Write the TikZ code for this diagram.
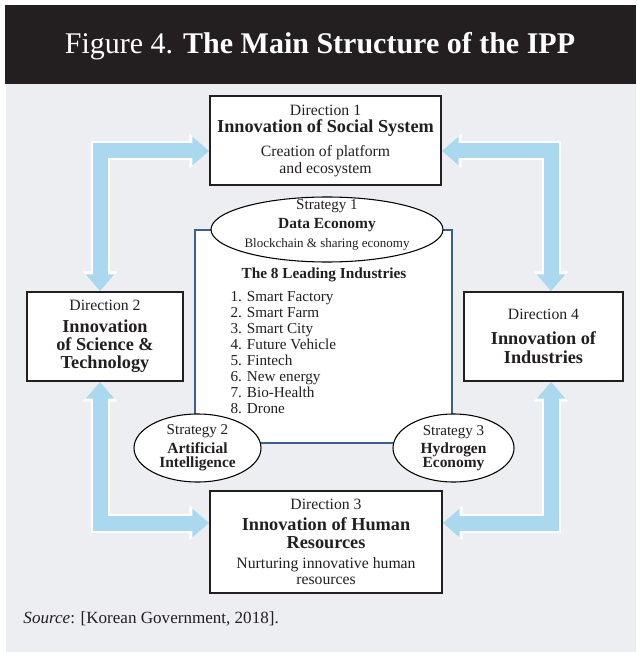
\documentclass[tikz,border=0pt]{standalone}
\usepackage{fontspec}
\setmainfont{Liberation Serif}
\usetikzlibrary{arrows.meta,shapes.geometric,backgrounds}

\definecolor{inkgray}{RGB}{35,31,32}
\definecolor{panelgray}{RGB}{237,238,242}
\definecolor{pipeblue}{RGB}{170,216,239}
\definecolor{coreblue}{RGB}{62,94,140}

\tikzset{every picture/.style={line width=0.75pt}}
\tikzset{
  dirbox/.style={draw=inkgray, fill=white, line width=1.1pt, inner sep=0pt, align=center,
    text=inkgray, font=\fontsize{11.8}{12.75}\selectfont},
  stratell/.style={ellipse, draw=black, fill=white, line width=0.8pt, inner sep=0pt},
  strattext/.style={align=center, inner sep=0pt, text=inkgray, font=\fontsize{11.3}{10.5}\selectfont},
  pipeedge/.style={draw=white, line width=14.25pt, line join=miter, >={Triangle[length=15pt,width=25.5pt]}, <->},
  pipe/.style={draw=pipeblue, line width=11.25pt, line join=miter, >={Triangle[length=12.75pt,width=21pt]}, <->},
}
\newcommand{\dirhead}[1]{{\fontsize{13.7}{12.75}\selectfont\bfseries #1}}
\newcommand{\strathead}[1]{{\fontsize{11.6}{10.5}\selectfont\bfseries #1}}

\begin{document}
\begin{tikzpicture}[x=0.75pt,y=0.75pt,yscale=-1,xscale=1]
\useasboundingbox (0,0) rectangle (636,652);

% title bar
\node[text=white, inner sep=0pt, font=\fontsize{22.5}{24}\selectfont] (title) at (320,46)
  {Figure 4. \textbf{The Main Structure of the IPP}};

% four directions
\node[dirbox, minimum width=173.25pt, minimum height=66.75pt] (d1) at (325.5,140.5)
  {Direction 1\\ \dirhead{Innovation of Social System}\\[5.25pt] Creation of platform\\ and ecosystem};
\node[dirbox, minimum width=117pt, minimum height=66.75pt] (d2) at (105,336.5)
  {Direction 2\\[3.75pt] \dirhead{Innovation}\\[0.75pt] \dirhead{of Science \&}\\[0.75pt] \dirhead{Technology}};
\node[dirbox, minimum width=119.25pt, minimum height=66.75pt] (d4) at (543.5,336.5)
  {Direction 4\\[6pt] \dirhead{Innovation of}\\[1.5pt] \dirhead{Industries}};
\node[dirbox, minimum width=174pt, minimum height=76.5pt] (d3) at (326,542)
  {Direction 3\\[3pt] \dirhead{Innovation of Human}\\[0.75pt] \dirhead{Resources}\\[2.25pt] Nurturing innovative human\\[-0.75pt] resources};

% bent double arrows between the directions, kept behind the boxes
\coordinate (c1) at (100,151);
\coordinate (c2) at (551,151);
\coordinate (c3) at (100,523);
\coordinate (c4) at (551,523);
\begin{scope}[on background layer]
  \fill[panelgray] (6,84) rectangle (636,652);
  \fill[inkgray] (5,5) rectangle (636,84);
  \foreach \a/\b/\c in {c1/d1.west/d2.north, c2/d1.east/d4.north, c3/d3.west/d2.south, c4/d3.east/d4.south} {
    \draw[pipeedge] (\a -| \b) -- (\a) -- (\a |- \c);
    \draw[pipe] (\a -| \b) -- (\a) -- (\a |- \c);
  }
\end{scope}

% core panel with the leading industries
\node[draw=coreblue, fill=white, line width=0.9pt, minimum width=192.75pt, minimum height=159.75pt] (core) at (323.5,336.5) {};
\node[inner sep=0pt, text=inkgray, font=\fontsize{11.5}{12}\selectfont\bfseries] (lead) at (324,275) {The 8 Leading Industries};
\node[anchor=west, inner sep=0pt, align=left, text=inkgray, font=\fontsize{11.4}{12}\selectfont] (list) at (230,353)
  {1. Smart Factory\\ 2. Smart Farm\\ 3. Smart City\\ 4. Future Vehicle\\ 5. Fintech\\ 6. New energy\\ 7. Bio-Health\\ 8. Drone};

% three strategies
\node[stratell, minimum width=174pt, minimum height=48.75pt] (s1) at (327,229.5) {};
\node[strattext, font=\fontsize{11.3}{14.25}\selectfont] (s1t) at (327,224.5)
  {Strategy 1\\ \strathead{Data Economy}\\ {\fontsize{9.75}{10}\selectfont Blockchain \& sharing economy}};
\node[stratell, minimum width=95.25pt, minimum height=51pt] (s2) at (197.5,448) {};
\node[strattext] (s2t) at (197.5,447.5)
  {Strategy 2\\[2.25pt] \strathead{Artificial}\\ \strathead{Intelligence}};
\node[stratell, minimum width=90.75pt, minimum height=51pt] (s3) at (453.5,448) {};
\node[strattext] (s3t) at (453.5,448)
  {Strategy 3\\[3pt] \strathead{Hydrogen}\\ \strathead{Economy}};

% source line
\node[anchor=west, inner sep=0pt, text=inkgray, font=\fontsize{12.8}{14}\selectfont] (src) at (23,619)
  {\textit{Source}: [Korean Government, 2018].};
\end{tikzpicture}
\end{document}
